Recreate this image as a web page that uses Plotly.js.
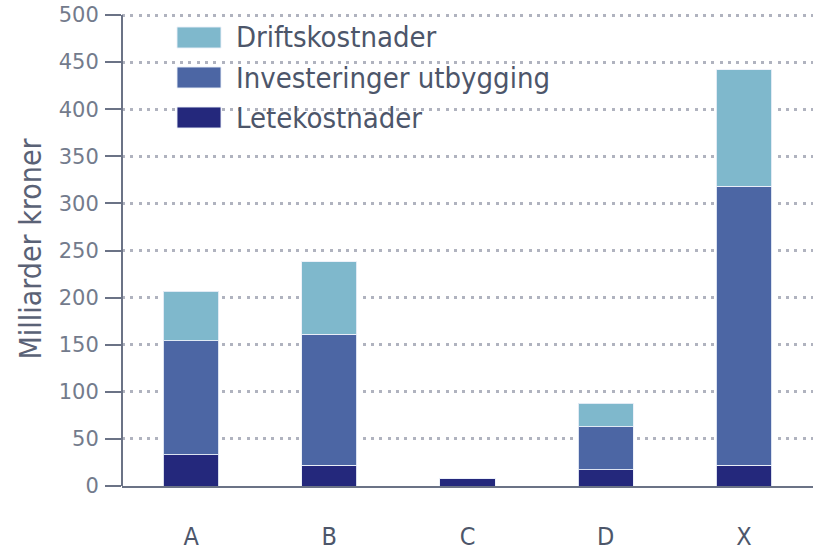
<!DOCTYPE html>
<html>
<head>
<meta charset="utf-8">
<script src="https://cdn.plot.ly/plotly-3.0.1.min.js"></script>
<style>
  html, body { margin: 0; padding: 0; background: #ffffff; }
  #chart { width: 813px; height: 552px; }
</style>
</head>
<body>
<div id="chart"></div>
<script>
const categories = ["A", "B", "C", "D", "X"];
const seriesNames = ["Letekostnader", "Investeringer utbygging", "Driftskostnader"];
const letekostnader = [33, 22, 7.5, 17, 22];
const investeringer = [121, 139, 0, 46, 296];
const driftskostnader = [53, 77, 0, 25, 124];
const seriesColors = ["#24287C", "#4C66A4", "#7FB8CC"];
const yTicks = [0, 50, 100, 150, 200, 250, 300, 350, 400, 450, 500];

const seriesValues = [letekostnader, investeringer, driftskostnader];
const fontNarrow = "'Liberation Sans Narrow', 'DejaVu Sans Condensed', 'Liberation Sans', sans-serif";
const textColor = "#4d566a";

const traces = seriesValues.map((vals, i) => ({
  type: "bar",
  name: seriesNames[i],
  x: categories,
  y: vals,
  marker: { color: seriesColors[i], line: { color: "rgba(235,240,248,0.9)", width: 1 } },
  width: 0.4,
  showlegend: false,
  hoverinfo: "x+y+name"
}));

const plotL = 122, plotR = 813, plotT = 12, plotB = 486;
const pw = plotR - plotL, ph = plotB - plotT;
const yMax = ph / 0.942;

const shapes = [];
const annotations = [];
const legendOrder = [2, 1, 0];
legendOrder.forEach((si, row) => {
  const yTop = 27 + row * 40;
  shapes.push({
    type: "rect", xref: "paper", yref: "paper",
    x0: (177 - plotL) / pw, x1: (221 - plotL) / pw,
    y0: (plotB - yTop) / ph, y1: (plotB - (yTop + 21)) / ph,
    fillcolor: seriesColors[si], line: { color: "rgba(235,240,248,0.9)", width: 1 }
  });
  annotations.push({
    xref: "paper", yref: "paper",
    x: (234 - plotL) / pw, y: (plotB - (yTop + 10.5)) / ph,
    xanchor: "left", yanchor: "middle", showarrow: false,
    text: seriesNames[si],
    font: { family: fontNarrow, size: 29, color: textColor }
  });
});
// y-axis line drawn only from 0 to 500 (as in the reference)
shapes.push({
  type: "line", xref: "paper", yref: "y",
  x0: 0, x1: 0, y0: 0, y1: yTicks[yTicks.length - 1],
  line: { color: "#6b7386", width: 2 }, layer: "above"
});

const layout = {
  width: 813, height: 552,
  margin: { l: plotL, r: 0, t: plotT, b: 552 - plotB },
  paper_bgcolor: "#ffffff", plot_bgcolor: "#ffffff",
  barmode: "stack",
  showlegend: false,
  xaxis: {
    type: "category",
    range: [-0.5, 4.5],
    showgrid: false,
    showline: true, linecolor: "#6b7386", linewidth: 2,
    ticks: "", ticklabelstandoff: 27,
    tickfont: { family: fontNarrow, size: 25, color: textColor },
    zeroline: false, fixedrange: true
  },
  yaxis: {
    range: [0, yMax],
    tickvals: yTicks,
    ticktext: yTicks.map(String),
    showline: false,
    ticks: "outside", ticklen: 16, tickwidth: 2, tickcolor: "#6b7386",
    tickfont: { family: "'DejaVu Sans', sans-serif", size: 21, color: "#737b8c" },
    ticklabelstandoff: 2,
    showgrid: true, gridcolor: "#b0b3bf", gridwidth: 3, griddash: "3px,5.3px",
    zeroline: false,
    title: { text: "Milliarder kroner", standoff: 8,
             font: { family: fontNarrow, size: 30, color: "#5a6276" } },
    fixedrange: true
  },
  shapes: shapes,
  annotations: annotations,
  bargap: 0.6
};

Plotly.newPlot("chart", traces, layout, { displayModeBar: false, staticPlot: true });
</script>
</body>
</html>
